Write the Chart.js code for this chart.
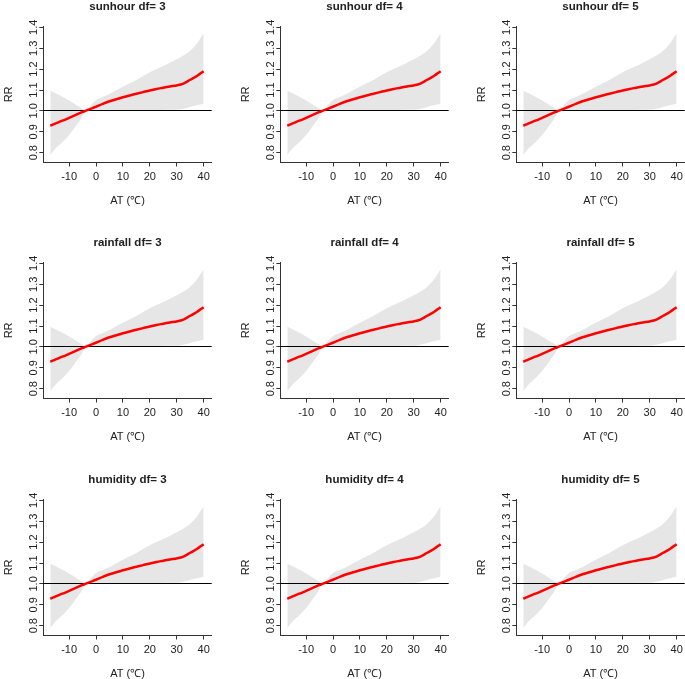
<!DOCTYPE html>
<html><head><meta charset="utf-8">
<script src="https://cdn.jsdelivr.net/npm/chart.js@4.4.0/dist/chart.umd.min.js"></script>
<style>
html,body{margin:0;padding:0;background:#fff;overflow:hidden;width:685px;height:679px;position:relative}
canvas{position:absolute}
</style></head><body>
<script>
// ---- data ----
const AT      = [-17, -15, -12.5, -10, -7.5, -5, -4, -2, 0, 2.5, 5, 7.5, 10, 12.5, 15, 17.5, 20, 22.5, 25, 27.5, 30, 32.5, 35, 37.5, 40];
const RR_FIT  = [0.929, 0.940, 0.953, 0.967, 0.981, 0.995, 1.000, 1.010, 1.020, 1.034, 1.046, 1.056, 1.065, 1.074, 1.082, 1.090, 1.098, 1.105, 1.111, 1.117, 1.122, 1.131, 1.149, 1.167, 1.190];
const RR_LOW  = [0.789, 0.821, 0.850, 0.885, 0.928, 0.975, 1.000, 1.002, 1.003, 1.003, 1.003, 1.004, 1.004, 1.004, 1.004, 1.004, 1.004, 1.004, 1.004, 1.005, 1.005, 1.010, 1.019, 1.027, 1.034];
const RR_HIGH = [1.097, 1.085, 1.068, 1.050, 1.030, 1.010, 1.000, 1.026, 1.052, 1.067, 1.081, 1.099, 1.116, 1.132, 1.148, 1.167, 1.185, 1.200, 1.215, 1.231, 1.247, 1.265, 1.288, 1.323, 1.372];
const COVARIATES = ['sunhour', 'rainfall', 'humidity'];
const DFS = [3, 4, 5];
const X_TICKS = [-10, 0, 10, 20, 30, 40];
const Y_TICKS = [0.8, 0.9, 1.0, 1.1, 1.2, 1.3, 1.4];
const X_RANGE = [-19.6, 43];
const Y_RANGE = [0.753, 1.405];
const REF_RR = 1;
const X_TITLE = 'AT (\u2103)';
const Y_TITLE = 'RR';

// ---- layout ----
const COL_LEFT = [0, 237, 473];
const ROW_TOP = [0, 236, 473];
const CW = 236, CH = 236;
const FONT = '"Liberation Sans", Arial, sans-serif';
const TXT = '#222';
const AXC = '#333';

const pts = ys => AT.map((x, i) => ({x: x, y: ys[i]}));

const panelTitle = {
  id: 'panelTitle',
  afterDraw(chart, args, opts) {
    const {ctx, chartArea: a} = chart;
    ctx.save();
    ctx.font = 'bold 11.5px ' + FONT;
    ctx.fillStyle = TXT;
    ctx.textAlign = 'center';
    ctx.textBaseline = 'middle';
    ctx.fillText(opts.text, (a.left + a.right) / 2, a.top - 19.3);
    ctx.restore();
  }
};
const refLine = {
  id: 'refLine',
  beforeDatasetDraw(chart, args) {
    if (args.index !== 0) return;
    const {ctx, chartArea: a} = chart;
    const y = Math.floor(chart.scales.y.getPixelForValue(REF_RR)) + 0.5;
    ctx.save();
    ctx.strokeStyle = '#000';
    ctx.lineWidth = 1;
    ctx.beginPath();
    ctx.moveTo(a.left, y);
    ctx.lineTo(a.right, y);
    ctx.stroke();
    ctx.restore();
  }
};

for (let r = 0; r < 3; r++) {
  for (let c = 0; c < 3; c++) {
    const cv = document.createElement('canvas');
    cv.width = CW; cv.height = CH;
    cv.style.left = COL_LEFT[c] + 'px';
    cv.style.top = ROW_TOP[r] + 'px';
    document.body.appendChild(cv);
    new Chart(cv, {
      type: 'line',
      data: {
        datasets: [
          {data: pts(RR_FIT), borderColor: '#ff0000', borderWidth: 2.5, pointRadius: 0, fill: false, cubicInterpolationMode: 'monotone'},
          {data: pts(RR_HIGH), borderColor: 'rgba(0,0,0,0)', borderWidth: 0, pointRadius: 0, backgroundColor: '#e6e6e6', fill: '+1', cubicInterpolationMode: 'monotone'},
          {data: pts(RR_LOW), borderColor: 'rgba(0,0,0,0)', borderWidth: 0, pointRadius: 0, fill: false, cubicInterpolationMode: 'monotone'}
        ]
      },
      options: {
        responsive: false,
        animation: false,
        devicePixelRatio: 1,
        layout: {padding: {left: 0, top: 26.3, right: CW - 211.7, bottom: CH - 162.5 - 50}},
        plugins: {
          legend: {display: false},
          tooltip: {enabled: false},
          panelTitle: {text: COVARIATES[r] + ' df= ' + DFS[c]}
        },
        scales: {
          x: {
            type: 'linear', min: X_RANGE[0], max: X_RANGE[1],
            afterBuildTicks: s => { s.ticks = X_TICKS.map(v => ({value: v})); },
            afterFit: s => { s.height = 50; },
            border: {display: true, color: AXC, width: 1},
            grid: {display: true, drawOnChartArea: false, drawTicks: true, tickLength: 4, color: AXC},
            ticks: {font: {size: 11, family: FONT}, color: TXT, padding: 3.6, maxRotation: 0, autoSkip: false, callback: v => String(v)},
            title: {display: true, text: X_TITLE, font: {size: 11, family: FONT}, color: TXT, padding: {top: 0, bottom: 4.9}}
          },
          y: {
            type: 'linear', min: Y_RANGE[0], max: Y_RANGE[1],
            afterBuildTicks: s => { s.ticks = Y_TICKS.map(v => ({value: v})); },
            afterFit: s => { s.width = 43.3; },
            border: {display: true, color: AXC, width: 1},
            grid: {display: true, drawOnChartArea: false, drawTicks: true, tickLength: 4, color: AXC},
            ticks: {font: {size: 11, family: FONT}, color: TXT, padding: -2, minRotation: 90, maxRotation: 90, crossAlign: 'center', autoSkip: false, callback: v => v.toFixed(1)},
            title: {display: true, text: Y_TITLE, font: {size: 11, family: FONT}, color: TXT, padding: {top: 2.4, bottom: 0}}
          }
        }
      },
      plugins: [panelTitle, refLine]
    });
  }
}
</script>
</body></html>
